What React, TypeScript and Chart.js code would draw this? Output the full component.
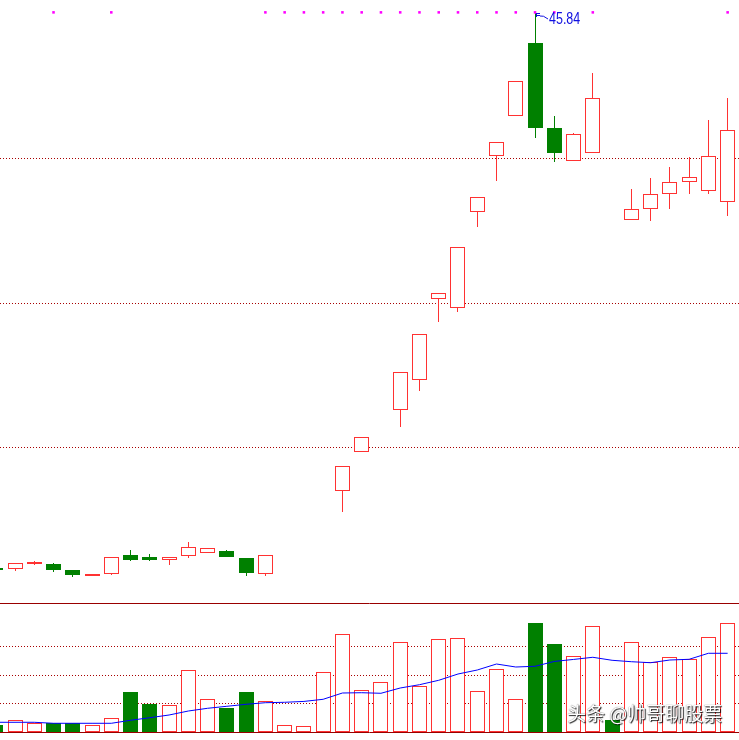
import React, { useEffect, useRef } from 'react';
import { Chart, registerables } from 'chart.js';

Chart.register(...registerables);

// ---- Data (one entry per trading day; null = no candle drawn) ----
const OPEN: (number | null)[] = [
  15.10, 15.08, 15.35, 15.34, 15.00, 14.69, 14.77, 15.83, 15.72, 15.57,
  15.76, 15.93, 16.06, 15.67, 14.77, null, null, null, 19.36, 21.52,
  null, 23.84, 25.51, 29.99, 29.49, 34.81, 37.91, 40.13, 44.18, 39.48,
  37.63, 38.08, null, 34.37, 34.98, 35.81, 36.47, 35.97, 35.36,
];
const HIGH: (number | null)[] = [
  15.12, 15.39, 15.50, 15.39, 15.00, 14.80, 15.72, 16.11, 15.89, 15.71,
  16.55, 16.21, 16.11, 15.67, 15.83, null, null, null, 20.75, 22.35,
  null, 25.95, 28.05, 30.32, 32.87, 35.64, 38.69, 42.06, 45.84, 40.13,
  39.20, 42.51, null, 36.10, 36.71, 37.32, 37.86, 39.92, 41.14,
];
const LOW: (number | null)[] = [
  14.98, 14.97, 15.30, 14.91, 14.63, 14.65, 14.71, 15.52, 15.52, 15.30,
  15.69, 15.93, 15.74, 14.69, 14.69, null, null, null, 18.23, 21.52,
  null, 22.94, 24.90, 28.75, 29.31, 33.98, 36.56, 40.13, 38.94, 37.61,
  37.63, 38.08, null, 34.37, 34.35, 35.01, 35.84, 35.84, 34.62,
];
const CLOSE: (number | null)[] = [
  15.00, 15.39, 15.45, 15.02, 14.74, 14.80, 15.72, 15.57, 15.57, 15.71,
  16.28, 16.21, 15.74, 14.85, 15.83, null, null, null, 20.75, 22.35,
  null, 25.95, 28.05, 30.32, 32.87, 35.64, 38.69, 42.06, 39.49, 38.11,
  39.13, 41.12, null, 34.98, 35.81, 36.47, 36.75, 37.91, 39.35,
];
const VOLUME: number[] = [
  2.45, 4.1, 3.15, 3.05, 3.05, 2.35, 4.8, 14.0, 9.8, 9.35,
  21.6, 11.45, 8.4, 14.0, 10.75, 2.35, 2.2, 21.0, 34.3, 14.7,
  17.5, 31.4, 16.1, 32.55, 32.9, 14.35, 22.05, 11.55, 38.25, 30.9,
  26.6, 37.1, 4.2, 31.5, 24.6, 26.25, 25.65, 33.25, 38.15,
];
const VOLUME_UP: boolean[] = [
  false, true, true, false, false, true, true, false, false, true,
  true, true, false, false, true, true, true, true, true, true,
  true, true, true, true, true, true, true, true, false, false,
  true, true, false, true, true, true, true, true, true,
];
const VOL_MA: number[] = [
  3.4, 3.4, 3.4, 3.05, 3.05, 3.05, 3.05, 4.1, 5.0, 5.95,
  7.35, 8.3, 9.0, 9.7, 10.25, 10.4, 10.7, 11.45, 13.65, 13.75,
  13.55, 15.4, 16.55, 18.1, 20.3, 21.7, 23.8, 22.75, 23.0, 24.7,
  25.4, 26.15, 25.1, 24.6, 24.25, 25.2, 25.45, 27.55, 27.55,
];
const MARKER_DAYS: number[] = [3, 6, 14, 15, 16, 17, 18, 19, 20, 21, 22, 23, 24, 25, 26, 27, 28, 29, 31, 38];
const MARKER_LEVEL = 45.88;
const PRICE_GRID: number[] = [37.8, 29.8, 21.8];
const VOL_GRID: number[] = [10, 20, 30];
const VOL_PANEL_TOP = 45.15;

// ---- Styles / layout ----
const RED = '#ff3232';
const GREEN = '#008000';
const GRID_COLOR = '#a80000';
const SEP_COLOR = '#990000';

const X_MIN = 0.2212;
const X_MAX = 38.59;
const P_MIN = 5.59;
const P_MAX = 46.565;
const V_MIN = -2.8;
const V_MAX = 256.2;

const candleIdx = OPEN.map((o, i) => i).filter((i) => OPEN[i] != null);
const candleUp = candleIdx.map((i) => (CLOSE[i] as number) >= (OPEN[i] as number));

// snap bar elements to the pixel grid so 1px borders and wicks stay crisp
const snapPlugin = {
  id: 'snapBars',
  afterDatasetsUpdate(chart: any) {
    chart.data.datasets.forEach((ds: any, di: number) => {
      const meta = chart.getDatasetMeta(di);
      if (meta.type !== 'bar') return;
      meta.data.forEach((el: any) => {
        el.x = Math.floor(el.x) + 0.5;
        el.y = Math.round(el.y);
        el.base = Math.round(el.base);
      });
    });
  },
};

const gridPlugin = {
  id: 'panelGrid',
  beforeDatasetsDraw(chart: any) {
    const { ctx, chartArea: a, scales } = chart;
    const yP = scales.y;
    const yV = scales.yV;
    ctx.save();
    ctx.lineWidth = 1;
    ctx.strokeStyle = GRID_COLOR;
    ctx.setLineDash([1, 2]);
    const hline = (y: number) => {
      const yy = Math.round(y) + 0.5;
      ctx.beginPath();
      ctx.moveTo(a.left, yy);
      ctx.lineTo(a.right, yy);
      ctx.stroke();
    };
    PRICE_GRID.forEach((v) => hline(yP.getPixelForValue(v)));
    VOL_GRID.forEach((v) => hline(yV.getPixelForValue(v)));
    ctx.setLineDash([]);
    ctx.strokeStyle = SEP_COLOR;
    hline(yV.getPixelForValue(VOL_PANEL_TOP));
    hline(yV.getPixelForValue(0));
    ctx.restore();
  },
};

const labelPlugin = {
  id: 'maxLabel',
  afterDatasetsDraw(chart: any) {
    const { ctx, scales } = chart;
    let best = -1;
    HIGH.forEach((h, i) => {
      if (h != null && (best < 0 || h > (HIGH[best] as number))) best = i;
    });
    if (best < 0) return;
    const x = Math.floor(scales.x.getPixelForValue(best));
    const y = Math.round(scales.y.getPixelForValue(HIGH[best] as number));
    ctx.save();
    ctx.strokeStyle = '#1010e0';
    ctx.fillStyle = '#1010e0';
    ctx.lineWidth = 1;
    ctx.beginPath();
    ctx.moveTo(x + 1.5, y);
    ctx.lineTo(x + 1.5, y + 4);
    ctx.moveTo(x + 1, y + 0.5);
    ctx.lineTo(x + 5, y + 0.5);
    ctx.moveTo(x + 2, y + 2.5);
    ctx.lineTo(x + 5, y + 2.5);
    ctx.moveTo(x + 5, y + 3);
    ctx.quadraticCurveTo(x + 8, y + 2, x + 13, y + 6);
    ctx.stroke();
    ctx.translate(x + 14, y + 11);
    ctx.scale(0.78, 1);
    ctx.font = '16px "Liberation Sans", Arial, sans-serif';
    ctx.textBaseline = 'alphabetic';
    ctx.fillText((HIGH[best] as number).toFixed(2), 0, 0);
    ctx.restore();
  },
};

export default function App() {
  const ref = useRef<HTMLCanvasElement>(null);

  useEffect(() => {
    if (!ref.current) return;
    const chart = new Chart(ref.current, {
      type: 'bar',
      data: {
        datasets: [
          {
            type: 'line',
            label: 'markers',
            data: MARKER_DAYS.map((i) => ({ x: i, y: MARKER_LEVEL })),
            showLine: false,
            pointStyle: 'rect',
            pointRadius: 1.8,
            pointBackgroundColor: '#ff00ff',
            pointBorderWidth: 0,
            yAxisID: 'y',
            xAxisID: 'x',
            order: 1,
          } as any,
          {
            type: 'line',
            label: 'volMA',
            data: VOL_MA.map((v, i) => ({ x: i, y: v })),
            borderColor: '#0000ff',
            borderWidth: 1,
            pointRadius: 0,
            tension: 0,
            fill: false,
            yAxisID: 'yV',
            xAxisID: 'x',
            order: 2,
          } as any,
          {
            type: 'bar',
            label: 'volume',
            data: VOLUME.map((v, i) => ({ x: i, y: v })),
            backgroundColor: VOLUME_UP.map((u) => (u ? '#ffffff' : GREEN)),
            borderColor: VOLUME_UP.map((u) => (u ? RED : GREEN)),
            borderWidth: 1,
            borderSkipped: false,
            barThickness: 15,
            grouped: false,
            inflateAmount: 0,
            yAxisID: 'yV',
            xAxisID: 'x',
            order: 3,
          } as any,
          {
            type: 'bar',
            label: 'body',
            data: candleIdx.map((i) => ({ x: i, y: [OPEN[i], CLOSE[i]] })),
            backgroundColor: candleUp.map((u) => (u ? '#ffffff' : GREEN)),
            borderColor: candleUp.map((u) => (u ? RED : GREEN)),
            borderWidth: 1,
            borderSkipped: false,
            barThickness: 15,
            grouped: false,
            inflateAmount: 0,
            yAxisID: 'y',
            xAxisID: 'x',
            order: 4,
          } as any,
          {
            type: 'bar',
            label: 'wick',
            data: candleIdx.map((i) => ({ x: i, y: [LOW[i], HIGH[i]] })),
            backgroundColor: candleUp.map((u) => (u ? RED : GREEN)),
            borderWidth: 0,
            borderSkipped: false,
            barThickness: 1,
            grouped: false,
            inflateAmount: 0,
            yAxisID: 'y',
            xAxisID: 'x',
            order: 5,
          } as any,
        ],
      },
      options: {
        animation: false,
        responsive: false,
        maintainAspectRatio: false,
        layout: { padding: 0, autoPadding: false },
        events: [],
        plugins: { legend: { display: false }, tooltip: { enabled: false } },
        scales: {
          x: { type: 'linear', min: X_MIN, max: X_MAX, offset: false, display: false },
          y: { type: 'linear', position: 'left', min: P_MIN, max: P_MAX, display: false },
          yV: { type: 'linear', position: 'right', min: V_MIN, max: V_MAX, display: false },
        },
      } as any,
      plugins: [snapPlugin, gridPlugin, labelPlugin],
    });
    return () => chart.destroy();
  }, []);

  return (
    <div
      style={{
        position: 'absolute',
        left: 0,
        top: 0,
        width: 739,
        height: 740,
        background: '#ffffff',
        overflow: 'hidden',
      }}
    >
      <canvas ref={ref} width={739} height={740} style={{ display: 'block', width: 739, height: 740 }} />
      <div
        style={{
          position: 'absolute',
          left: 567,
          top: 703,
          fontFamily: '"Noto Sans CJK SC", sans-serif',
          fontSize: 19,
          lineHeight: '19px',
          color: '#ffffff',
          whiteSpace: 'nowrap',
          textShadow: '1px 1px 1px rgba(0,0,0,0.85), 0 0 1px rgba(0,0,0,0.7)',
        }}
      >
        头条 @帅哥聊股票
      </div>
    </div>
  );
}
